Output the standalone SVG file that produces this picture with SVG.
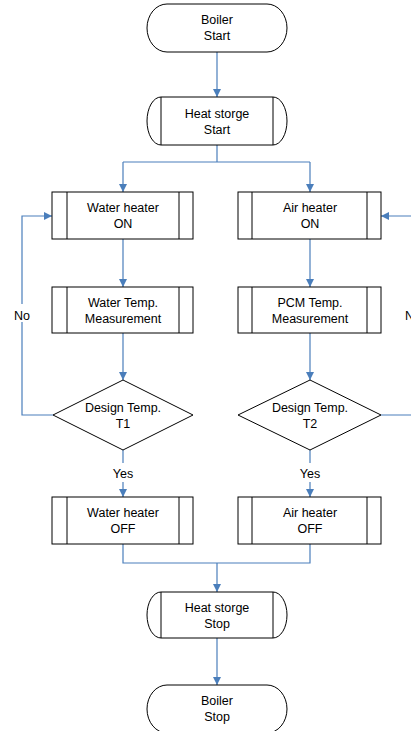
<svg xmlns="http://www.w3.org/2000/svg" width="411" height="731" viewBox="0 0 411 731">
<defs>
<marker id="ah" markerWidth="8" markerHeight="8" refX="8" refY="4" orient="auto" markerUnits="userSpaceOnUse">
<path d="M0,0 L8,4 L0,8 Z" fill="#4A7EBB"/>
</marker>
<style>
.s{fill:#fff;stroke:#000;stroke-width:1}
.l{fill:none;stroke:#000;stroke-width:1}
.c{fill:none;stroke:#4A7EBB;stroke-width:1.2}
text{font-family:"Liberation Sans",Arial,sans-serif;font-size:12.5px;fill:#000;text-anchor:middle}
</style>
</defs>
<rect width="411" height="731" fill="#fff"/>
<g id="connectors">
<path class="c" d="M217,52 V97" marker-end="url(#ah)"/>
<path class="c" d="M217,145 V162"/>
<path class="c" d="M123,162 H310"/>
<path class="c" d="M123,162 V192" marker-end="url(#ah)"/>
<path class="c" d="M310,162 V192" marker-end="url(#ah)"/>
<path class="c" d="M123,239 V287" marker-end="url(#ah)"/>
<path class="c" d="M310,239 V287" marker-end="url(#ah)"/>
<path class="c" d="M123,333 V380" marker-end="url(#ah)"/>
<path class="c" d="M310,333 V380" marker-end="url(#ah)"/>
<path class="c" d="M53,415 H22 V216 H52" marker-end="url(#ah)"/>
<path class="c" d="M381,415 H420 V216 H381" marker-end="url(#ah)"/>
<path class="c" d="M123,450 V497" marker-end="url(#ah)"/>
<path class="c" d="M310,450 V497" marker-end="url(#ah)"/>
<path class="c" d="M123,544 V563 H310 V544"/>
<path class="c" d="M217,563 V592" marker-end="url(#ah)"/>
<path class="c" d="M217,638 V685" marker-end="url(#ah)"/>
<rect x="10" y="304" width="24" height="18" fill="#fff"/>
<text x="22" y="320">No</text>
<rect x="400" y="304" width="24" height="18" fill="#fff"/>
<text x="413" y="320">No</text>
<rect x="108" y="463" width="30" height="19" fill="#fff"/>
<text x="123" y="478">Yes</text>
<rect x="295" y="463" width="30" height="19" fill="#fff"/>
<text x="310" y="478">Yes</text>
</g>
<g id="boiler-start">
<rect class="s" x="147" y="4" width="140" height="48" rx="20" ry="24"/>
<text x="217" y="24">Boiler</text>
<text x="217" y="40">Start</text>
</g>
<g id="heat-storge-start">
<path class="s" d="M161,97 H273 A14,24 0 0 1 273,145 H161 A14,24 0 0 1 161,97 Z"/>
<path class="l" d="M161,97 V145 M273,97 V145"/>
<text x="217" y="118">Heat storge</text>
<text x="217" y="134">Start</text>
</g>
<g id="water-heater-on">
<rect class="s" x="52" y="192" width="141" height="47"/>
<path class="l" d="M67,192 V239 M179,192 V239"/>
<text x="123" y="212">Water heater</text>
<text x="123" y="228">ON</text>
</g>
<g id="air-heater-on">
<rect class="s" x="238" y="192" width="143" height="47"/>
<path class="l" d="M252,192 V239 M367,192 V239"/>
<text x="310" y="212">Air heater</text>
<text x="310" y="228">ON</text>
</g>
<g id="water-temp">
<rect class="s" x="52" y="287" width="141" height="46"/>
<path class="l" d="M67,287 V333 M179,287 V333"/>
<text x="123" y="307">Water Temp.</text>
<text x="123" y="323">Measurement</text>
</g>
<g id="pcm-temp">
<rect class="s" x="238" y="287" width="143" height="46"/>
<path class="l" d="M252,287 V333 M367,287 V333"/>
<text x="310" y="307">PCM Temp.</text>
<text x="310" y="323">Measurement</text>
</g>
<g id="design-t1">
<path class="s" d="M123,380 L193,415 L123,450 L53,415 Z"/>
<text x="123" y="412">Design Temp.</text>
<text x="123" y="428">T1</text>
</g>
<g id="design-t2">
<path class="s" d="M310,380 L381,415 L310,450 L238,415 Z"/>
<text x="310" y="412">Design Temp.</text>
<text x="310" y="428">T2</text>
</g>
<g id="water-heater-off">
<rect class="s" x="52" y="497" width="141" height="47"/>
<path class="l" d="M67,497 V544 M179,497 V544"/>
<text x="123" y="517">Water heater</text>
<text x="123" y="533">OFF</text>
</g>
<g id="air-heater-off">
<rect class="s" x="238" y="497" width="143" height="47"/>
<path class="l" d="M252,497 V544 M367,497 V544"/>
<text x="310" y="517">Air heater</text>
<text x="310" y="533">OFF</text>
</g>
<g id="heat-storge-stop">
<path class="s" d="M161,592 H273 A14,23 0 0 1 273,638 H161 A14,23 0 0 1 161,592 Z"/>
<path class="l" d="M161,592 V638 M273,592 V638"/>
<text x="217" y="612">Heat storge</text>
<text x="217" y="628">Stop</text>
</g>
<g id="boiler-stop">
<rect class="s" x="147" y="685" width="140" height="48" rx="20" ry="24"/>
<text x="217" y="705">Boiler</text>
<text x="217" y="721">Stop</text>
</g>
</svg>
